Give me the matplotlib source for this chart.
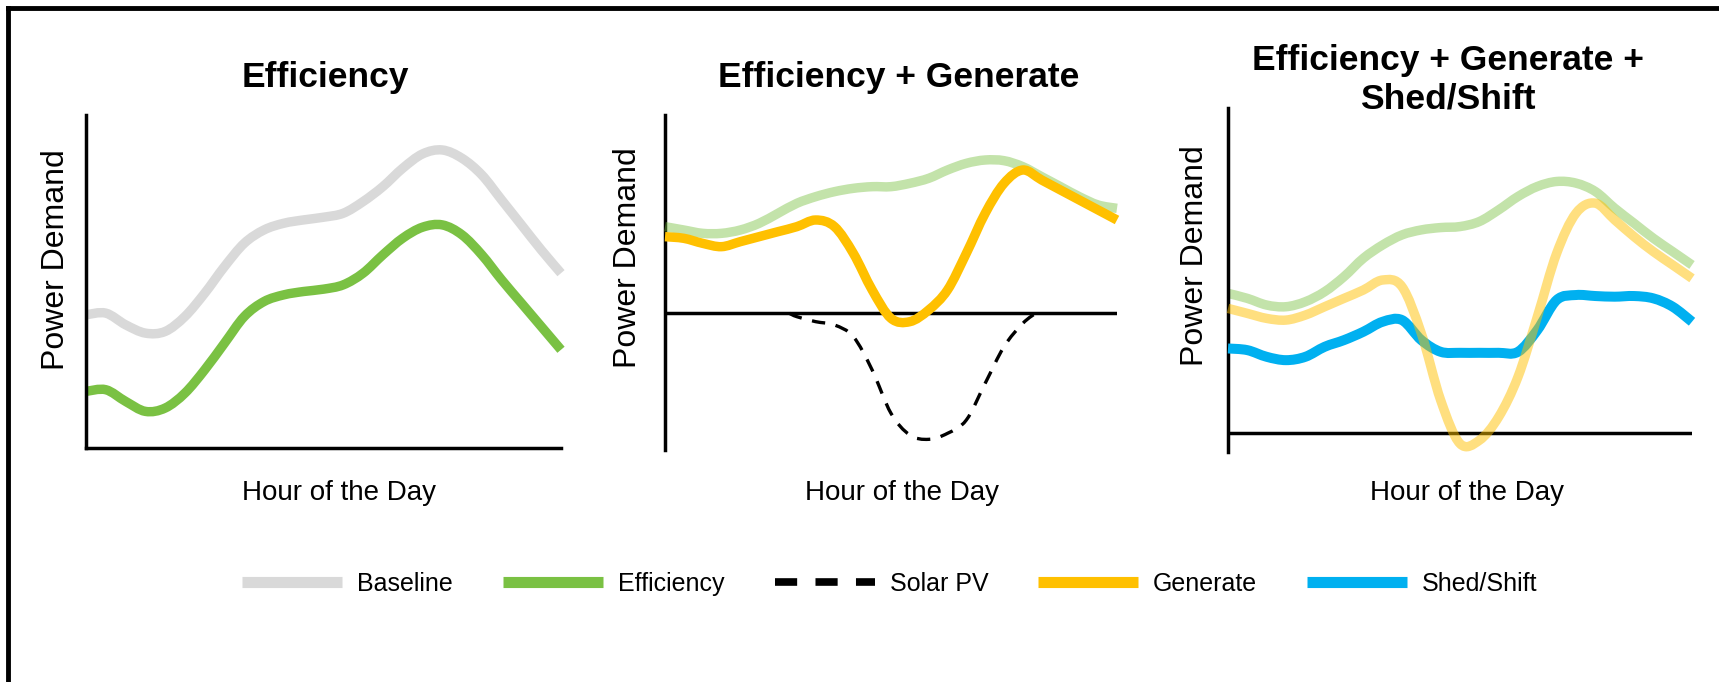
import matplotlib
matplotlib.use("Agg")
import matplotlib.pyplot as plt
from matplotlib.lines import Line2D
from matplotlib.patches import PathPatch
from matplotlib.path import Path
import numpy as np

W, H = 1719, 682
GREY, GREEN, ORANGE, BLUE = "#d9d9d9", "#7ac143", "#ffc000", "#00b0f0"

plt.rcParams.update({
    "font.family": ["Liberation Sans", "DejaVu Sans"],
    "figure.dpi": 100,
})

hours = np.arange(25)

# panel 1 - Efficiency (relative demand, axis 0..100)
p1_baseline = [40, 40.5, 37, 34.5, 35, 39.5, 46.5, 54.5, 61.5, 65.5, 67.5, 68.5, 69.3,
               70.5, 74, 78.5, 84, 88.3, 89.5, 87, 82, 74.5, 67, 59.5, 52.5]
p1_efficiency = [17, 17.5, 14, 11, 12, 16.5, 23.5, 31.5, 39.5, 44, 46, 47, 47.7,
                 49, 52.5, 58, 63, 66.3, 67, 64, 58, 50.5, 43.5, 36.5, 29.5]

# panel 2 - Efficiency + Generate (zero line in the middle)
p2_efficiency = [26, 25, 24, 24, 25, 27, 30, 33, 35, 36.5, 37.5, 38, 38,
                 39, 40.5, 43, 45, 46, 45.8, 44, 41, 38, 35, 32.5, 31.5]
p2_generate = [23, 22.5, 21, 20, 21.5, 23, 24.5, 26, 28, 26, 18, 7, -1.5,
               -2.5, 1, 7, 18, 30, 39, 43, 40, 37, 34, 31, 28]
solar_hours = [6.6, 7, 8, 9, 10, 11, 12, 13, 14, 15, 16, 17, 18, 19, 19.8]
solar_pv = [0, -1, -2.5, -3.5, -7, -17, -30, -36.5, -37.8, -36, -32, -21, -10, -3, 0.5]

# panel 3 - Efficiency + Generate + Shed/Shift
p3_efficiency = [41.8, 40.3, 38.3, 37.8, 39.3, 42.3, 46.8, 52.3, 56.3, 59.3, 60.8, 61.5, 61.8,
                 63.3, 66.8, 70.8, 73.8, 75.3, 74.8, 72.3, 67.3, 62.8, 58.3, 54.3, 50.3]
p3_generate = [37.3, 35.8, 34.3, 33.8, 35.3, 37.8, 40.3, 42.8, 45.8, 43.8, 29.8, 9.8, -3.2,
               -2.2, 4.8, 16.8, 34.8, 53.8, 65.8, 68.8, 63.8, 58.8, 54.3, 50.3, 46.3]
p3_shed = [25.3, 24.8, 22.8, 21.8, 22.8, 25.8, 27.8, 30.3, 33.3, 33.8, 27.8, 24.3, 24,
           24, 24, 24.3, 30.8, 39.8, 41.3, 41, 40.8, 41, 40.3, 37.8, 33.3]

titles = ["Efficiency", "Efficiency + Generate", "Efficiency + Generate +\nShed/Shift"]
legend_labels = ["Baseline", "Efficiency", "Solar PV", "Generate", "Shed/Shift"]

LW = 6.8


def curve(ax, x, y, **kw):
    # draw the read points as one smooth bezier path (passes through every point)
    pts = np.column_stack([x, y]).astype(float)
    verts, codes = [pts[0]], [Path.MOVETO]
    for i in range(len(pts) - 1):
        p0 = pts[max(i - 1, 0)]
        p1, p2 = pts[i], pts[i + 1]
        p3 = pts[min(i + 2, len(pts) - 1)]
        verts += [p1 + (p2 - p0) / 6, p2 - (p3 - p1) / 6, p2]
        codes += [Path.CURVE4] * 3
    patch = PathPatch(Path(verts, codes), fill=False, capstyle="butt",
                      joinstyle="round", clip_on=False, **kw)
    ax.add_patch(patch)


def add_ax(fig, l, r, t, b, ylim):
    ax = fig.add_axes([l / W, 1 - b / H, (r - l) / W, (b - t) / H])
    ax.set_xlim(0, 24)
    ax.set_ylim(*ylim)
    ax.set_xticks([])
    ax.set_yticks([])
    ax.patch.set_alpha(0)
    for s in ("top", "right", "bottom"):
        ax.spines[s].set_visible(False)
    ax.spines["left"].set_linewidth(2.5)
    return ax


def label(fig, x, y, text, **kw):
    fig.text(x / W, 1 - y / H, text, ha="center", va="center", **kw)


fig = plt.figure(figsize=(W / 100, H / 100), dpi=100)

# outer frame (top and left edges only)
fig.add_artist(Line2D([8 / W, 1], [1 - 8 / H] * 2, color="black", lw=3.5,
                      transform=fig.transFigure))
fig.add_artist(Line2D([8 / W] * 2, [0, 1 - 8 / H], color="black", lw=3.5,
                      transform=fig.transFigure))

# ---------------------------------------------------------------- panel 1
ax1 = add_ax(fig, 86, 561, 115, 448, (0, 100))
ax1.spines["bottom"].set_visible(True)
ax1.spines["bottom"].set_linewidth(2.5)
curve(ax1, hours, p1_baseline, edgecolor=GREY, lw=LW)
curve(ax1, hours, p1_efficiency, edgecolor=GREEN, lw=LW)

# ---------------------------------------------------------------- panel 2
ax2 = add_ax(fig, 665, 1117, 115, 450, (-41, 59.5))
ax2.axhline(0, color="black", lw=2.5, zorder=1)
curve(ax2, solar_hours, solar_pv, edgecolor="black", lw=2.4,
      linestyle=(0, (4, 3.2)), zorder=2)
curve(ax2, hours, p2_efficiency, edgecolor=GREEN, alpha=0.45, lw=LW, zorder=3)
curve(ax2, hours, p2_generate, edgecolor=ORANGE, lw=LW, zorder=4)

# ---------------------------------------------------------------- panel 3
ax3 = add_ax(fig, 1228, 1692, 108, 452, (-5.7, 97.3))
ax3.axhline(0, color="black", lw=2.5, zorder=1)
curve(ax3, hours, p3_efficiency, edgecolor=GREEN, alpha=0.45, lw=LW, zorder=2)
curve(ax3, hours, p3_shed, edgecolor=BLUE, lw=7.2, zorder=3)
curve(ax3, hours, p3_generate, edgecolor=ORANGE, alpha=0.5, lw=LW, zorder=4)

# titles and axis labels
for x, y, t in zip((325, 899, 1448), (77, 77, 80), titles):
    label(fig, x, y, t, fontsize=25.5, fontweight="bold", linespacing=1.2)
for x, y in zip((56, 628, 1195), (260, 258, 256)):
    label(fig, x, y, "Power Demand", fontsize=23, rotation=90)
for x in (339, 902, 1467):
    label(fig, x, 493, "Hour of the Day", fontsize=20)

# legend
handles = [
    Line2D([], [], color=GREY, lw=8, solid_capstyle="butt"),
    Line2D([], [], color=GREEN, lw=8, solid_capstyle="butt"),
    Line2D([], [], color="black", lw=5.5, dashes=(2.9, 2.4), dash_capstyle="butt"),
    Line2D([], [], color=ORANGE, lw=8, solid_capstyle="butt"),
    Line2D([], [], color=BLUE, lw=8, solid_capstyle="butt"),
]
fig.legend(handles, legend_labels, loc="center", bbox_to_anchor=(890 / W, 1 - 584 / H),
           ncol=5, frameon=False, fontsize=18, handlelength=4.0,
           handletextpad=0.6, columnspacing=2.0)

fig.savefig("out.png", dpi=100, facecolor="white")
